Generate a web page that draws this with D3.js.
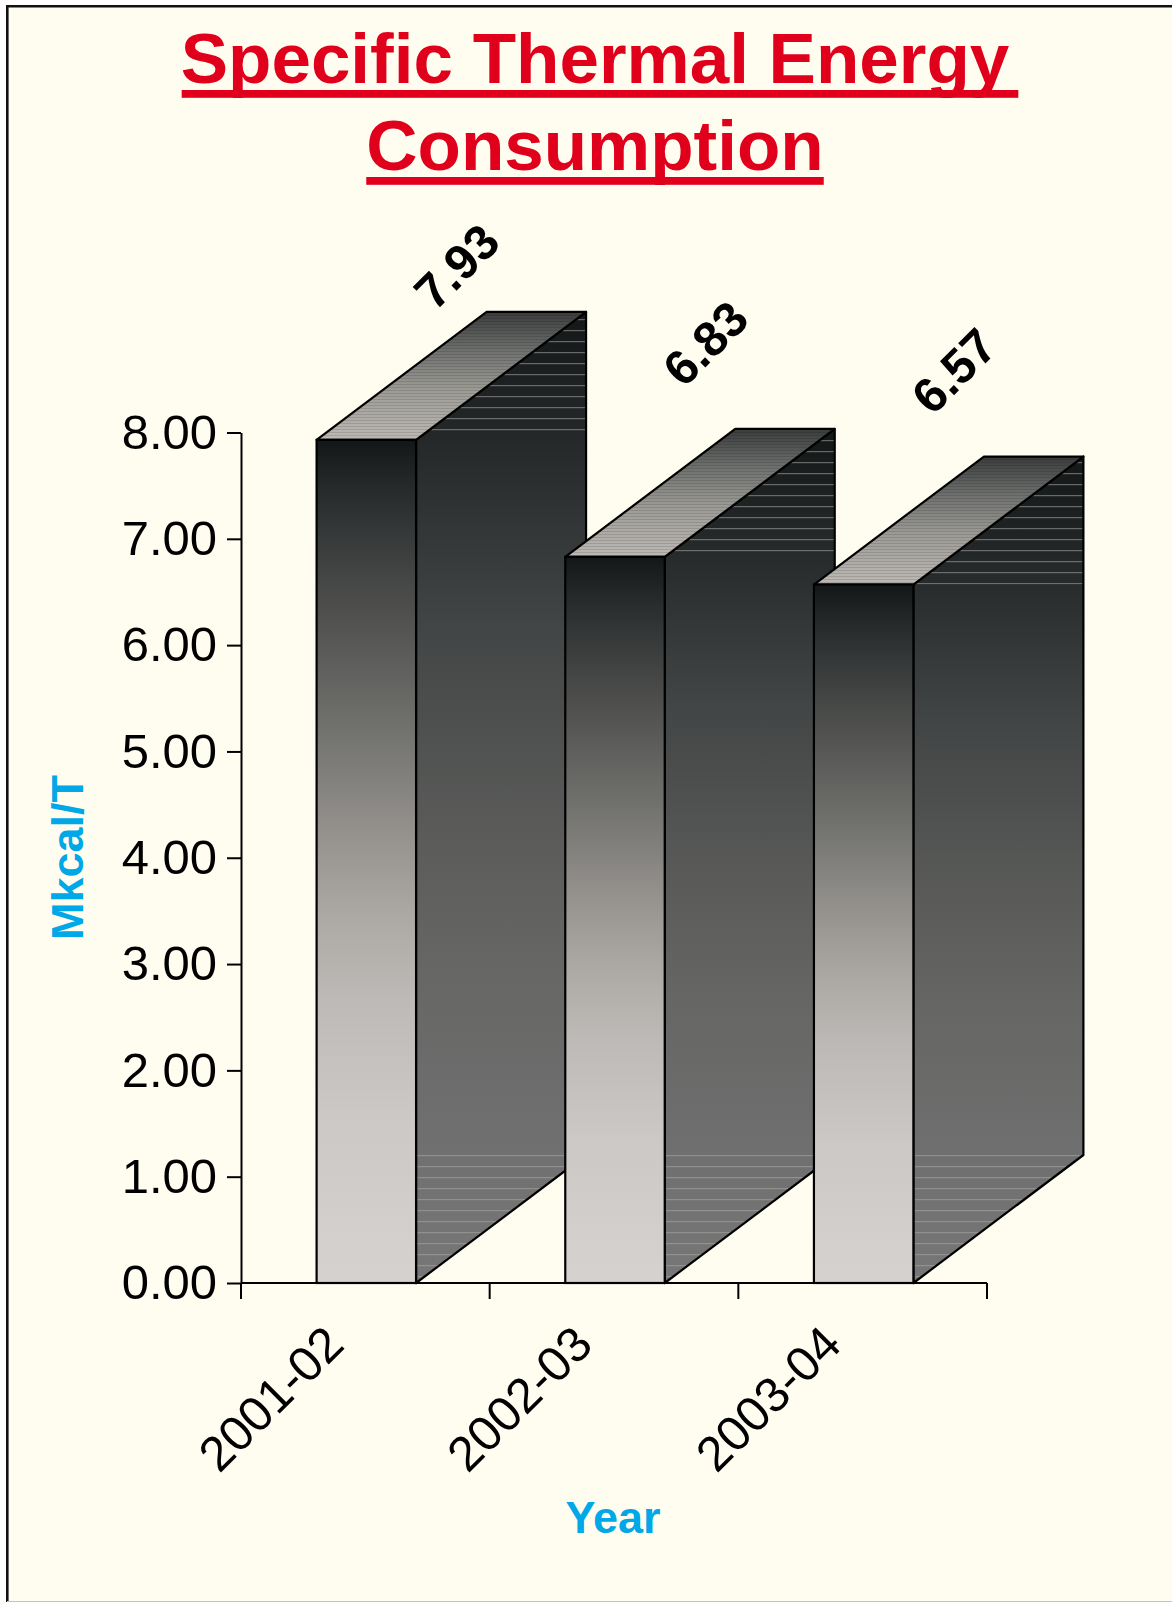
<!DOCTYPE html>
<html>
<head>
<meta charset="utf-8">
<script src="https://cdn.jsdelivr.net/npm/d3@7"></script>
<style>
  html, body { margin: 0; padding: 0; background: #ffffff; }
  svg { display: block; }
  text { font-family: "Liberation Sans", Arial, Helvetica, sans-serif; }
</style>
</head>
<body>
<script>
// ---- data ----
const categories = ["2001-02", "2002-03", "2003-04"];
const values = [7.93, 6.83, 6.57];
const yTicks = [0, 1, 2, 3, 4, 5, 6, 7, 8];
const titleLines = ["Specific Thermal Energy", "Consumption"];
const yTitle = "Mkcal/T";
const xTitle = "Year";

// ---- layout ----
const W = 1172, H = 1602;
const depthX = 170, depthY = -128;
const FONT = '"Liberation Sans", Arial, Helvetica, sans-serif';

const svg = d3.select("body").append("svg").attr("width", W).attr("height", H);

// frame
svg.append("rect").attr("x", 7).attr("y", 6).attr("width", W).attr("height", H - 7).attr("fill", "#fffdf0");
svg.append("line").attr("x1", 7).attr("x2", W).attr("y1", 6.2).attr("y2", 6.2).attr("stroke", "#111").attr("stroke-width", 2.6);
svg.append("line").attr("x1", 7.3).attr("x2", 7.3).attr("y1", 5).attr("y2", H).attr("stroke", "#111").attr("stroke-width", 2.6);
svg.append("line").attr("x1", 7).attr("x2", W).attr("y1", H - 0.5).attr("y2", H - 0.5).attr("stroke", "#c4c4bc").attr("stroke-width", 1);

// scales
const y = d3.scaleLinear().domain([0, 8]).range([1283, 432.5]);
const x = d3.scaleBand().domain(categories).range([241, 987]).paddingInner(0).paddingOuter(0);
const bw = x.bandwidth();
const barW = bw * 0.4;

// gradients
const defs = svg.append("defs");
function grad(id, stops) {
  const g = defs.append("linearGradient").attr("id", id)
    .attr("x1", 0).attr("y1", 0).attr("x2", 0).attr("y2", 1);
  stops.forEach(([o, c]) => g.append("stop").attr("offset", o).attr("stop-color", c));
}
grad("gFront", [[0, "#141717"], [0.06, "#282b2b"], [0.1, "#333636"], [0.2, "#4e4f4d"], [0.35, "#737370"],
  [0.46, "#93908c"], [0.56, "#aba7a3"], [0.66, "#bdb9b6"], [0.8, "#ccc8c5"], [1, "#d5d2d0"]]);
grad("gSide", [[0, "#141717"], [0.15, "#282b2b"], [0.32, "#424545"], [0.55, "#5c5d5b"], [0.67, "#666665"],
  [0.84, "#6f6f6f"], [1, "#777777"]]);
grad("gTop", [[0, "#3a3c3c"], [0.3, "#6e706e"], [0.6, "#9b9a95"], [1, "#bdb9b5"]]);

const pStripe = defs.append("pattern").attr("id", "pStripe").attr("patternUnits", "userSpaceOnUse")
  .attr("width", 20).attr("height", 11);
pStripe.append("rect").attr("x", 0).attr("y", 0).attr("width", 20).attr("height", 1.2).attr("fill", "#a8a8a4").attr("opacity", 0.55);
const pTop = defs.append("pattern").attr("id", "pTop").attr("patternUnits", "userSpaceOnUse")
  .attr("width", 20).attr("height", 3);
pTop.append("rect").attr("x", 0).attr("y", 0).attr("width", 20).attr("height", 1).attr("fill", "#000").attr("opacity", 0.12);

// bars
const bars = svg.append("g");
const y0 = y(0);
categories.forEach((c, i) => {
  const v = values[i];
  const xl = x(c) + (bw - barW) / 2 + 1;
  const xr = xl + barW;
  const yt = y(v);
  const g = bars.append("g");
  const pts = a => a.map(p => p.join(",")).join(" ");
  // side face
  g.append("polygon")
    .attr("points", pts([[xr, yt], [xr + depthX, yt + depthY], [xr + depthX, y0 + depthY], [xr, y0]]))
    .attr("fill", "url(#gSide)");
  // stripes on side: top triangle and bottom triangle
  g.append("polygon")
    .attr("points", pts([[xr, yt], [xr + depthX, yt + depthY], [xr + depthX, yt]]))
    .attr("fill", "url(#pStripe)");
  g.append("polygon")
    .attr("points", pts([[xr, y0 + depthY], [xr + depthX, y0 + depthY], [xr, y0]]))
    .attr("fill", "url(#pStripe)");
  g.append("polygon")
    .attr("points", pts([[xr, yt], [xr + depthX, yt + depthY], [xr + depthX, y0 + depthY], [xr, y0]]))
    .attr("fill", "none").attr("stroke", "#000").attr("stroke-width", 2.2).attr("stroke-linejoin", "round");
  // top face
  const topPts = pts([[xl, yt], [xl + depthX, yt + depthY], [xr + depthX, yt + depthY], [xr, yt]]);
  g.append("polygon").attr("points", topPts).attr("fill", "url(#gTop)");
  g.append("polygon").attr("points", topPts).attr("fill", "url(#pTop)");
  g.append("polygon").attr("points", topPts).attr("fill", "none")
    .attr("stroke", "#000").attr("stroke-width", 2.2).attr("stroke-linejoin", "round");
  // front face
  g.append("rect").attr("x", xl).attr("y", yt).attr("width", barW).attr("height", y0 - yt)
    .attr("fill", "url(#gFront)").attr("stroke", "#000").attr("stroke-width", 2.2);
});

// value labels
const labelMinY = 266;
svg.append("g").selectAll("text").data(values).join("text")
  .attr("transform", (v, i) => {
    const cx = x(categories[i]) + bw / 2 + 1 + depthX - 80;
    const cy = Math.max(y(v) + depthY - 86, labelMinY);
    return `translate(${cx},${cy}) rotate(-45)`;
  })
  .attr("text-anchor", "middle").attr("dy", "0.36em")
  .attr("font-size", 49).attr("font-weight", "bold").attr("fill", "#000")
  .text(v => v.toFixed(2));

// y axis
const yAxis = svg.append("g").attr("transform", "translate(241,0)")
  .call(d3.axisLeft(y).tickValues(yTicks).tickFormat(d3.format(".2f")).tickSize(14).tickSizeOuter(0).tickPadding(10));
yAxis.selectAll("path,line").attr("stroke", "#000").attr("stroke-width", 2);
yAxis.selectAll("text").attr("font-size", 49).attr("font-family", FONT).attr("fill", "#000");

// x axis
const bounds = categories.map(c => x(c)).concat([x.range()[1]]);
const xAxis = svg.append("g");
xAxis.append("line").attr("x1", x.range()[0]).attr("x2", x.range()[1]).attr("y1", y0).attr("y2", y0)
  .attr("stroke", "#000").attr("stroke-width", 2);
xAxis.selectAll("line.tick").data(bounds).join("line").attr("class", "tick")
  .attr("x1", d => d).attr("x2", d => d).attr("y1", y0).attr("y2", y0 + 16)
  .attr("stroke", "#000").attr("stroke-width", 2);
xAxis.selectAll("text").data(categories).join("text")
  .attr("transform", c => `translate(${x(c) + bw / 2 - 19},${y0 + 64}) rotate(-45)`)
  .attr("text-anchor", "end").attr("font-size", 49).attr("fill", "#000")
  .text(c => c);

// axis titles
svg.append("text").attr("transform", "translate(83,857.5) rotate(-90)")
  .attr("text-anchor", "middle").attr("font-size", 45).attr("font-weight", "bold").attr("fill", "#00a8e8")
  .text(yTitle);
svg.append("text").attr("x", 613).attr("y", 1533)
  .attr("text-anchor", "middle").attr("font-size", 45).attr("font-weight", "bold").attr("fill", "#00a8e8")
  .text(xTitle);

// title with underlines
const titleY = [82.5, 169.5];
const ulPad = [[-1, 9], [0, 0]];
const titleG = svg.append("g");
titleLines.forEach((t, i) => {
  const tx = titleG.append("text").attr("x", 595).attr("y", titleY[i])
    .attr("text-anchor", "middle").attr("font-size", 71).attr("font-weight", "bold").attr("fill", "#e0001b")
    .text(t);
  const len = tx.node().getComputedTextLength();
  titleG.append("rect").attr("x", 595 - len / 2 - ulPad[i][0]).attr("y", titleY[i] + 7.5)
    .attr("width", len + ulPad[i][0] + ulPad[i][1]).attr("height", 7.8).attr("fill", "#e0001b");
});
</script>
</body>
</html>
